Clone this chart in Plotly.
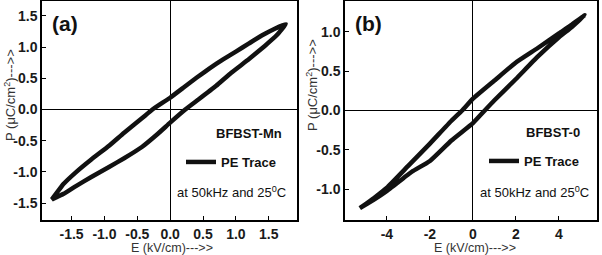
import plotly.graph_objects as go

# ---------------- data ----------------
# Panel (a) BFBST-Mn : upper branch (right tip -> left tip), lower branch (left tip -> right tip)
E_a_upper = [1.76, 1.6, 1.4, 1.2, 1.0, 0.8, 0.6, 0.4, 0.2, 0.0, -0.27, -0.43, -0.7, -0.93, -1.2, -1.44, -1.62, -1.80]
P_a_upper = [1.37, 1.30, 1.19, 1.06, 0.93, 0.80, 0.66, 0.51, 0.35, 0.19, 0.0, -0.14, -0.37, -0.58, -0.80, -1.01, -1.19, -1.44]
E_a_lower = [-1.80, -1.62, -1.44, -1.2, -0.93, -0.7, -0.43, -0.2, 0.0, 0.23, 0.43, 0.7, 0.93, 1.2, 1.44, 1.62, 1.76]
P_a_lower = [-1.44, -1.35, -1.23, -1.08, -0.92, -0.78, -0.60, -0.40, -0.21, 0.0, 0.16, 0.38, 0.59, 0.81, 1.02, 1.19, 1.37]

# Panel (b) BFBST-0
E_b_upper = [5.2, 4.5, 4.0, 3.0, 2.0, 1.0, 0.0, -0.5, -1.0, -2.0, -3.0, -4.0, -4.6, -5.26]
P_b_upper = [1.21, 1.07, 0.98, 0.79, 0.61, 0.38, 0.15, 0.0, -0.13, -0.42, -0.70, -0.98, -1.11, -1.24]
E_b_lower = [-5.26, -4.6, -4.0, -3.0, -2.8, -2.0, -1.0, 0.0, 0.55, 1.0, 2.0, 3.0, 4.0, 4.6, 5.2]
P_b_lower = [-1.24, -1.13, -1.02, -0.81, -0.77, -0.64, -0.38, -0.16, 0.0, 0.13, 0.40, 0.68, 0.93, 1.06, 1.21]

xticks_a = [-1.5, -1.0, -0.5, 0.0, 0.5, 1.0, 1.5]
xlabels_a = ["-1.5", "-1.0", "-0.5", "0.0", "0.5", "1.0", "1.5"]
yticks_a = [-1.5, -1.0, -0.5, 0.0, 0.5, 1.0, 1.5]
ylabels_a = ["-1.5", "-1.0", "-0.5", "0.0", "0.5", "1.0", "1.5"]
xticks_b = [-4, -2, 0, 2, 4]
xlabels_b = ["-4", "-2", "0", "2", "4"]
yticks_b = [-1.0, -0.5, 0.0, 0.5, 1.0]
ylabels_b = ["-1.0", "-0.5", "0.0", "0.5", "1.0"]

series_name = "PE Trace"
sample_a = "BFBST-Mn"
sample_b = "BFBST-0"
condition = "at 50kHz and 25<sup>0</sup>C"
x_title = "E (kV/cm)--->>"
y_title = "P (\u03bcC/cm<sup>2</sup>)--->>"

# ---------------- figure ----------------
W, H = 602, 255
FONT = "Liberation Sans, Arial, sans-serif"
INK = "#111111"

fig = go.Figure()
fig.add_trace(go.Scatter(x=E_a_upper + E_a_lower, y=P_a_upper + P_a_lower, mode="lines",
                         line=dict(color=INK, width=4.5, shape="spline", smoothing=0.35),
                         name=series_name, xaxis="x", yaxis="y", legend="legend"))
fig.add_trace(go.Scatter(x=E_b_upper + E_b_lower, y=P_b_upper + P_b_lower, mode="lines",
                         line=dict(color=INK, width=4.5, shape="spline", smoothing=0.35),
                         name=series_name, xaxis="x2", yaxis="y2", legend="legend2"))

def px(x):
    return x / W

def py(y):
    return 1 - y / H

axis_common = dict(showline=True, mirror=True, linecolor="black", linewidth=1.5,
                   ticks="inside", ticklen=4, tickwidth=1.2, tickcolor="black",
                   showgrid=False, zeroline=True, zerolinecolor="black", zerolinewidth=1,
                   tickfont=dict(family=FONT, size=14, color="#1a1a1a", weight="bold"))

ydom = [35 / H, 254 / H]
fig.update_layout(
    width=W, height=H, margin=dict(l=0, r=0, t=0, b=0),
    paper_bgcolor="white", plot_bgcolor="white",
    xaxis=dict(domain=[42 / W, 297 / W], range=[-1.95, 1.93], anchor="y",
               tickvals=xticks_a, ticktext=xlabels_a, **axis_common),
    yaxis=dict(domain=ydom, range=[-1.77, 1.74], anchor="x",
               tickvals=yticks_a, ticktext=ylabels_a, **axis_common),
    xaxis2=dict(domain=[345 / W, 597 / W], range=[-5.95, 5.77], anchor="y2",
                tickvals=xticks_b, ticktext=xlabels_b, **axis_common),
    yaxis2=dict(domain=ydom, range=[-1.39, 1.39], anchor="x2",
                tickvals=yticks_b, ticktext=ylabels_b, **axis_common),
    legend=dict(x=px(181), y=py(162), xanchor="left", yanchor="middle",
                bgcolor="rgba(0,0,0,0)", borderwidth=0,
                font=dict(family=FONT, size=13, color=INK, weight="bold")),
    legend2=dict(x=px(484), y=py(161), xanchor="left", yanchor="middle",
                 bgcolor="rgba(0,0,0,0)", borderwidth=0,
                 font=dict(family=FONT, size=13, color=INK, weight="bold")),
    showlegend=True,
)

ann = []
def text(x, y, s, size=13, bold=False, xanchor="center", angle=0, color=INK):
    ann.append(dict(x=px(x), y=py(y), xref="paper", yref="paper", text=s, showarrow=False,
                    xanchor=xanchor, yanchor="middle", textangle=angle,
                    font=dict(family=FONT, size=size, color=color,
                              weight="bold" if bold else "normal")))

# panel labels
text(65, 23, "(a)", size=21, bold=True)
text(368, 23, "(b)", size=21, bold=True)
# sample names & conditions
text(284, 133, sample_a, size=13, bold=True, xanchor="right")
text(582, 132, sample_b, size=13, bold=True, xanchor="right")
text(288, 192, condition, size=13, xanchor="right")
text(591, 192, condition, size=13, xanchor="right")
# axis titles
text(172, 248, x_title, size=12.5, color="#333333")
text(475, 248, x_title, size=12.5, color="#333333")
text(10, 95, y_title, size=13, angle=-90, color="#333333")
text(312, 85, y_title, size=13, angle=-90, color="#333333")

fig.update_layout(annotations=ann)
fig.write_html("out.html", config={"displayModeBar": False},
               post_script="document.body.style.margin='0px';")
